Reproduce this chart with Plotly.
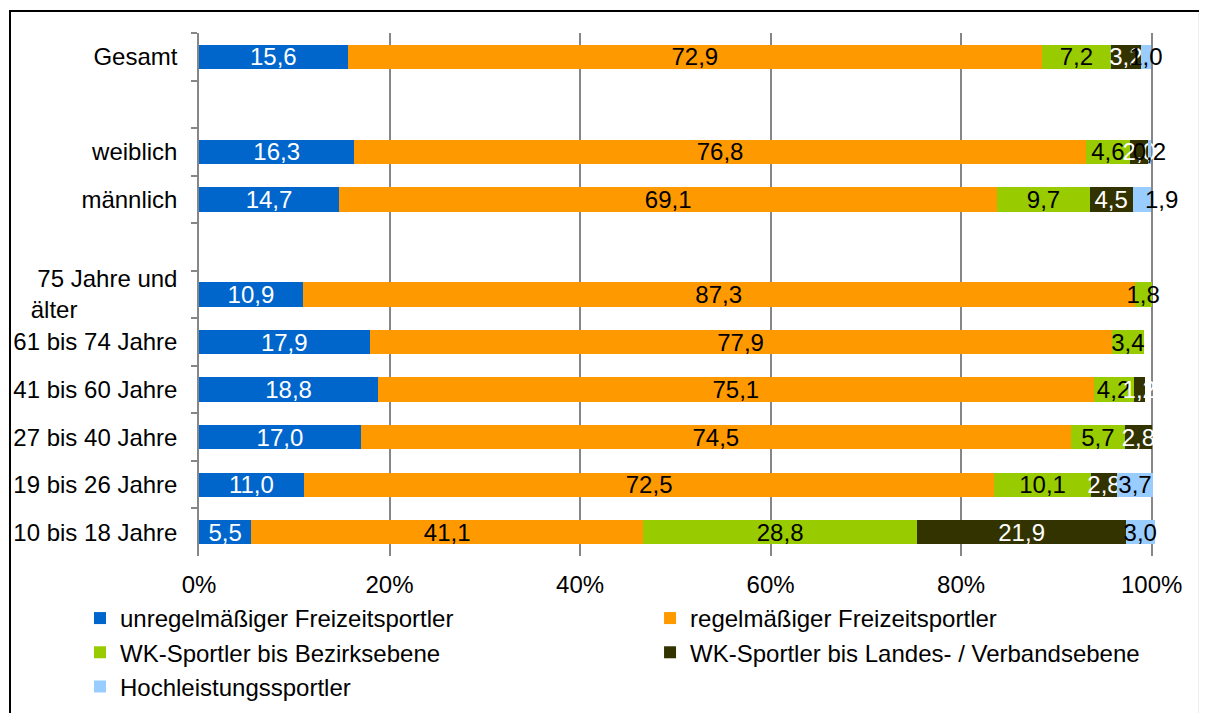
import plotly.graph_objects as go

# Kategorien (leere Einträge = Abstand zwischen Gruppen)
categories = ["Gesamt", " ", "weiblich", "männlich", "  ",
              "75 Jahre und<br>älter" + "\u00a0" * 15,
              "61 bis 74 Jahre", "41 bis 60 Jahre", "27 bis 40 Jahre",
              "19 bis 26 Jahre", "10 bis 18 Jahre"]
bar_cats = [c for c in categories if c.strip()]

unregelm = [15.6, 16.3, 14.7, 10.9, 17.9, 18.8, 17.0, 11.0, 5.5]
regelm = [72.9, 76.8, 69.1, 87.3, 77.9, 75.1, 74.5, 72.5, 41.1]
wk_bezirk = [7.2, 4.6, 9.7, 1.8, 3.4, 4.2, 5.7, 10.1, 28.8]
wk_landes = [3.2, 2.0, 4.5, 0.0, 0.0, 1.2, 2.8, 2.8, 21.9]
hochleistung = [1.0, 0.2, 1.9, 0.0, 0.0, 0.0, 0.0, 3.7, 3.0]

x_ticks = [0, 20, 40, 60, 80, 100]

# name, values, colour, text colour, legend column
series = [
    ("unregelmäßiger Freizeitsportler", unregelm, "#0066CC", "white", "legend"),
    ("regelmäßiger Freizeitsportler", regelm, "#FF9900", "black", "legend2"),
    ("WK-Sportler bis Bezirksebene", wk_bezirk, "#99CC00", "black", "legend"),
    ("WK-Sportler bis Landes- / Verbandsebene", wk_landes, "#333300", "white", "legend2"),
    ("Hochleistungssportler", hochleistung, "#99CCFF", "black", "legend"),
]

font = "Liberation Sans, Arial, sans-serif"
fs = 24
grid = "#868686"


def fmt(v):
    return f"{v:.1f}".replace(".", ",") if v > 0 else ""


fig = go.Figure()
for name, vals, color, tcol, leg in series:
    labels = [fmt(v) for v in vals]
    if name == "Hochleistungssportler":
        # label for "männlich" sits to the right of the bar in the original
        i = bar_cats.index("männlich")
        labels[i] = "\u00a0" * 6 + labels[i]
    fig.add_trace(go.Bar(
        y=bar_cats, x=vals, name=name, orientation="h", legend=leg,
        marker=dict(color=color, line=dict(width=0)),
        text=labels, textposition="inside", insidetextanchor="middle",
        textangle=0, constraintext="none",
        textfont=dict(color=tcol, size=fs, family=font),
        cliponaxis=False,
    ))

# page body has an 8px margin, so the figure is 8px smaller than the window
leg_common = dict(orientation="v", yref="container", yanchor="top", xanchor="left",
                  y=0.166, traceorder="normal", font=dict(size=fs), itemwidth=30,
                  tracegroupgap=0, bgcolor="rgba(0,0,0,0)")

fig.update_layout(
    barmode="stack",
    bargap=0.49,
    width=1199, height=705,
    margin=dict(l=191, r=52, t=25, b=157),
    paper_bgcolor="white", plot_bgcolor="white",
    font=dict(family=font, size=fs, color="black"),
    xaxis=dict(range=[0, 100.35], tickvals=x_ticks,
               ticktext=[f"{t}%" for t in x_ticks],
               showgrid=True, gridcolor=grid, gridwidth=1.5, zeroline=False,
               showline=False, ticks="", ticklabelstandoff=12, automargin=False,
               tickfont=dict(size=fs)),
    yaxis=dict(type="category", categoryorder="array", categoryarray=categories,
               autorange="reversed", showline=True, linecolor=grid, linewidth=1.5,
               ticks="outside", tickson="boundaries", ticklen=6, tickcolor=grid,
               tickwidth=1.5, showgrid=False, ticklabelstandoff=15, automargin=False,
               tickfont=dict(size=fs)),
    legend=dict(x=-0.1245, **leg_common),
    legend2=dict(x=0.4718, **leg_common),
    showlegend=True,
    shapes=[dict(type="rect", xref="paper", yref="paper",
                 x0=-0.1977, x1=1.047, y0=-0.31, y1=1.042,
                 line=dict(color="black", width=2), layer="below")],
)

fig.write_html("out.html")
